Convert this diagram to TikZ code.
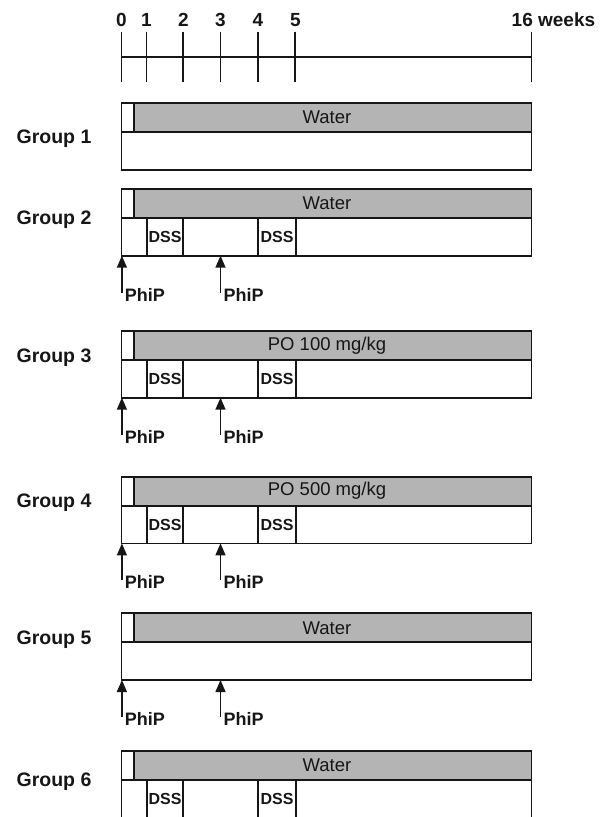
\documentclass[tikz,border=0pt]{standalone}
\usepackage{fontspec}
\setmainfont{Liberation Sans}
\usetikzlibrary{arrows.meta}

\definecolor{ink}{RGB}{22,22,22}
\definecolor{barfill}{RGB}{180,180,180}

\tikzset{
  axisline/.style={draw=ink, line width=1.8pt},
  frame/.style={draw=ink, line width=1.7pt},
  barbox/.style={fill=barfill, draw=ink, line width=1.7pt},
  ticklabel/.style={inner sep=0pt, anchor=base, text=ink, font=\fontsize{19}{21}\selectfont\bfseries},
  grouplabel/.style={inner sep=0pt, text=ink, font=\fontsize{19.5}{21}\selectfont\bfseries},
  bartext/.style={inner sep=0pt, text=ink, font=\fontsize{18.5}{20}\selectfont},
  dsstext/.style={inner sep=0pt, text=ink, font=\fontsize{16}{18}\selectfont\bfseries},
  dosetext/.style={inner sep=0pt, anchor=base west, text=ink, font=\fontsize{18}{20}\selectfont\bfseries},
  dose/.style={draw=ink, line width=1.5pt, -{Triangle[length=12pt,width=10pt]}},
}

% One treatment group: #1 id, #2 label, #3 top edge, #4 label height,
% #5 drinking-water text, #6 DSS cycles (1/0), #7 PhIP doses (1/0)
\newcommand\studygroup[7]{%
  \pgfmathsetmacro\gmid{#3+29}%
  \pgfmathsetmacro\gbot{#3+66.7}%
  \pgfmathsetmacro\gbar{(#3+\gmid)/2}%
  \pgfmathsetmacro\gcell{(\gmid+\gbot)/2}%
  \filldraw[barbox] (134.3,#3) rectangle (531.5,\gmid);
  \draw[frame] (121.5,#3) rectangle (531.5,\gbot);
  \draw[frame] (121.5,\gmid) -- (531.5,\gmid);
  \node[bartext] (#1bar) at (327,\gbar) {#5};
  \node[grouplabel] (#1label) at (54,#4) {#2};
  \ifnum#6=1
    \draw[frame] (146.7,\gmid) -- (146.7,\gbot);
    \draw[frame] (183.3,\gmid) -- (183.3,\gbot);
    \draw[frame] (258.3,\gmid) -- (258.3,\gbot);
    \draw[frame] (295.7,\gmid) -- (295.7,\gbot);
    \node[dsstext] (#1dssA) at (165,\gcell) {DSS};
    \node[dsstext] (#1dssB) at (277,\gcell) {DSS};
  \fi
  \ifnum#7=1
    \coordinate (#1tipA) at (121.9,\gbot);
    \coordinate (#1tailA) at (121.9,\gbot+37);
    \coordinate (#1tipB) at (220.5,\gbot);
    \coordinate (#1tailB) at (220.5,\gbot+37);
    \draw[dose] (#1tailA) -- (#1tipA);
    \draw[dose] (#1tailB) -- (#1tipB);
    \node[dosetext] (#1phipA) at (124.6,\gbot+45.5) {PhiP};
    \node[dosetext] (#1phipB) at (223.5,\gbot+45.5) {PhiP};
  \fi
}

\begin{document}
\begin{tikzpicture}[x=1pt,y=-1pt]
\useasboundingbox (0,0) rectangle (609,817);
\clip (0,0) rectangle (609,817);

% time axis in weeks
\draw[axisline] (121.5,56.7) -- (531.5,56.7);
\foreach \x/\w in {121.5/0,146.5/1,183.3/2,220.5/3,258/4,295.3/5}{
  \draw[axisline] (\x,31.5) -- (\x,82);
  \node[ticklabel] (wk\w) at (\x,26.7) {\w};
}
\draw[axisline] (531.5,31.5) -- (531.5,82);
\node[ticklabel, anchor=base west] (wk16) at (511.5,26.7) {16 weeks};

% treatment groups
\studygroup{gA}{Group 1}{103}{139}{Water}{0}{0}
\studygroup{gB}{Group 2}{189}{220}{Water}{1}{1}
\studygroup{gC}{Group 3}{331}{357.5}{PO 100 mg/kg}{1}{1}
\studygroup{gD}{Group 4}{476.7}{503}{PO 500 mg/kg}{1}{1}
\studygroup{gE}{Group 5}{613.3}{640}{Water}{0}{1}
\studygroup{gF}{Group 6}{751}{782}{Water}{1}{0}
\end{tikzpicture}
\end{document}
